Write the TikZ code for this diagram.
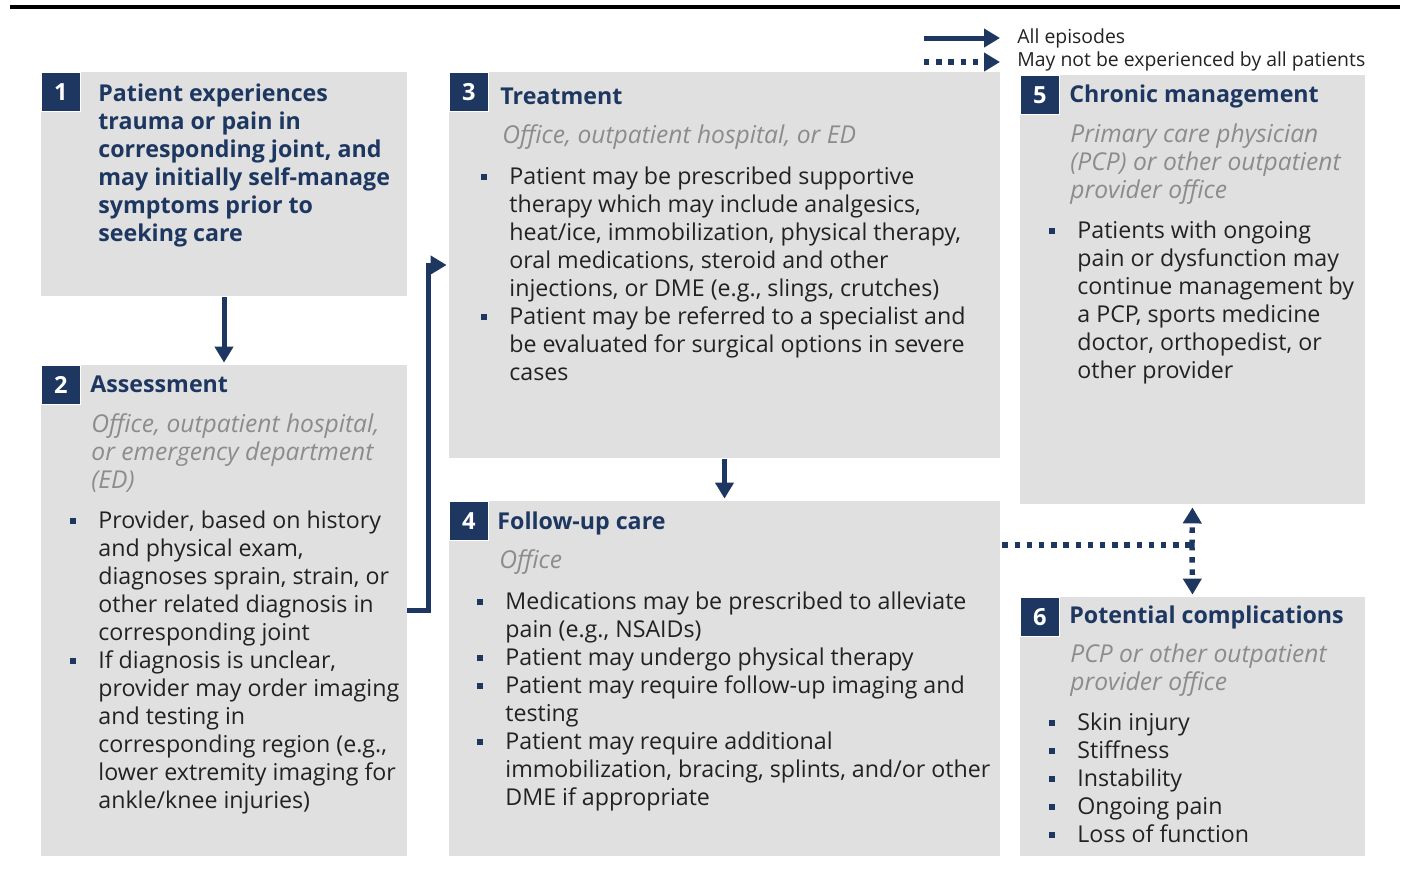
\documentclass[tikz,border=0pt]{standalone}
\usepackage{fontspec}
\setmainfont{Open Sans}
\usetikzlibrary{arrows.meta,fit,positioning}
\definecolor{navy}{HTML}{1D3761}
\definecolor{cardgray}{HTML}{E0E0E0}
\definecolor{subgray}{HTML}{8C8C8C}
\definecolor{ink}{HTML}{222222}
\newcommand{\bl}{\makebox[14pt][l]{\textcolor{navy}{\rule[2.3pt]{3pt}{3pt}}}}
\newcommand{\ind}{\hspace*{14pt}}
\newcommand{\fl}{\rule{0pt}{10pt}}

\begin{document}
\begin{tikzpicture}[x=0.5pt,y=-0.5pt,
    card/.style={fill=cardgray,inner sep=0pt,draw=none},
    numsq/.style={anchor=north west,fill=navy,draw=white,line width=0.8pt,minimum size=19.5pt,inner sep=0pt,text=white,font=\fontsize{11.8}{14}\selectfont\bfseries},
    ttl/.style={anchor=north west,inner sep=0pt,align=left,text=navy,font=\fontsize{11.6}{14}\selectfont\bfseries},
    sub/.style={anchor=north west,inner sep=0pt,align=left,text=subgray,font=\fontsize{12.3}{14}\selectfont\itshape},
    txt/.style={anchor=north west,inner sep=0pt,align=left,text=ink,font=\fontsize{11.6}{14}\selectfont},
    lgd/.style={anchor=west,inner sep=2pt,text=ink,font=\fontsize{9.7}{12}\selectfont},
    flow/.style={draw=navy,line width=2.5pt,-{Triangle[length=8pt,width=9pt]}},
    maybe/.style={draw=navy,line width=2.7pt,dash pattern=on 2.7pt off 3.4pt,-{Triangle[length=8pt,width=9pt]}}]
  \useasboundingbox (0,0) rectangle (1406,869);
  \draw[line width=1.8pt] (10,7) -- (1400,7);

  \node[card,fit={(41,72)(407,296)}] (s1) {};
  \node[card,fit={(41,365)(407,856)}] (s2) {};
  \node[card,fit={(449,72)(1000,458)}] (s3) {};
  \node[card,fit={(449,501)(1000,856)}] (s4) {};
  \node[card,fit={(1020,75)(1365,504)}] (s5) {};
  \node[card,fit={(1020,597)(1365,856)}] (s6) {};

  \node[numsq] (n1) at (s1.north west) {1};
  \node[numsq] (n2) at (s2.north west) {2};
  \node[numsq] (n3) at (s3.north west) {3};
  \node[numsq] (n4) at (s4.north west) {4};
  \node[numsq] (n5) at (s5.north west) {5};
  \node[numsq] (n6) at (s6.north west) {6};

  \node[ttl] (t1) at (98,81) {\fl Patient experiences\\trauma or pain in\\corresponding joint, and\\may initially self-manage\\symptoms prior to\\seeking care};

  \node[ttl] (t2) at (90,372) {\fl Assessment};
  \node[sub] (u2) at (91,412) {\fl Office, outpatient hospital,\\or emergency department\\(ED)};
  \node[txt] (x2) at (70,508) {\fl\bl Provider, based on history\\\ind and physical exam,\\\ind diagnoses sprain, strain, or\\\ind other related diagnosis in\\\ind corresponding joint\\\bl If diagnosis is unclear,\\\ind provider may order imaging\\\ind and testing in\\\ind corresponding region (e.g.,\\\ind lower extremity imaging for\\\ind ankle/knee injuries)};

  \node[ttl] (t3) at (500,84) {\fl Treatment};
  \node[sub] (u3) at (502,123) {\fl Office, outpatient hospital, or ED};
  \node[txt] (x3) at (481,164) {\fl\bl Patient may be prescribed supportive\\\ind therapy which may include analgesics,\\\ind heat/ice, immobilization, physical therapy,\\\ind oral medications, steroid and other\\\ind injections, or DME (e.g., slings, crutches)\\\bl Patient may be referred to a specialist and\\\ind be evaluated for surgical options in severe\\\ind cases};

  \node[ttl] (t4) at (497,509) {\fl Follow-up care};
  \node[sub] (u4) at (499,548) {\fl Office};
  \node[txt] (x4) at (477,589) {\fl\bl Medications may be prescribed to alleviate\\\ind pain (e.g., NSAIDs)\\\bl Patient may undergo physical therapy\\\bl Patient may require follow-up imaging and\\\ind testing\\\bl Patient may require additional\\\ind immobilization, bracing, splints, and/or other\\\ind DME if appropriate};

  \node[ttl] (t5) at (1069,82) {\fl Chronic management};
  \node[sub] (u5) at (1070,122) {\fl Primary care physician\\(PCP) or other outpatient\\provider office};
  \node[txt] (x5) at (1049,218) {\fl\bl Patients with ongoing\\\ind pain or dysfunction may\\\ind continue management by\\\ind a PCP, sports medicine\\\ind doctor, orthopedist, or\\\ind other provider};

  \node[ttl] (t6) at (1069,603) {\fl Potential complications};
  \node[sub] (u6) at (1070,642) {\fl PCP or other outpatient\\provider office};
  \node[txt] (x6) at (1049,710) {\fl\bl Skin injury\\\bl Stiffness\\\bl Instability\\\bl Ongoing pain\\\bl Loss of function};

  \draw[flow,shorten <=0.5pt,shorten >=1pt] (s1.south) -- (s2.north);
  \draw[flow,shorten >=1pt] (s2.east) -- ++(21,0) |- (s3.west);
  \draw[flow,shorten <=0.5pt,shorten >=1pt] (s3.south) -- (s4.north);

  \coordinate (j) at (1192,545);
  \draw[maybe,-,shorten <=1pt] (s4.east |- j) -- (j);
  \draw[maybe,shorten >=1.5pt] (j) -- (s5.south);
  \draw[maybe,shorten >=1pt] (j) -- (s6.north);

  \node[lgd] (lg1) at (1013,38) {All episodes};
  \node[lgd] (lg2) at (1013,61) {May not be experienced by all patients};
  \coordinate (la1) at (924,38);
  \coordinate (la2) at (924,62);
  \draw[flow,shorten >=6.5pt] (la1) -- (la1 -| lg1.west);
  \draw[maybe,shorten >=6.5pt] (la2) -- (la2 -| lg2.west);
\end{tikzpicture}
\end{document}
